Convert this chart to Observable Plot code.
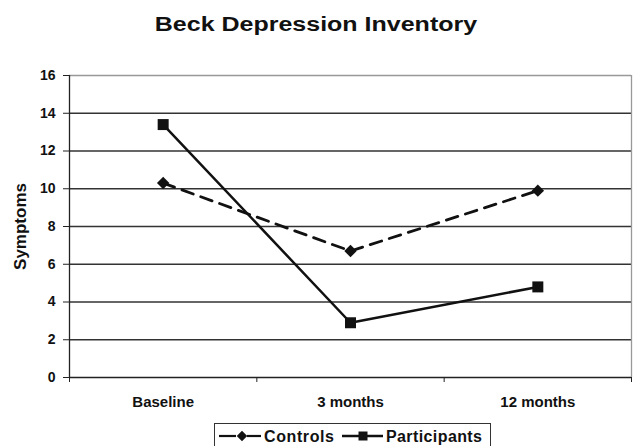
<!DOCTYPE html>
<html>
<head>
<meta charset="utf-8">
<script src="https://cdn.jsdelivr.net/npm/d3@7"></script>
<script src="https://cdn.jsdelivr.net/npm/@observablehq/plot@0.6"></script>
<style>
  html, body { margin: 0; padding: 0; background: #fff; }
  body { width: 634px; height: 446px; overflow: hidden; position: relative; font-family: "Liberation Sans", Arial, sans-serif; }
  #title { height: 60px; box-sizing: border-box; padding-top: 14px; text-align: center; }
  #title span { display: inline-block; font-size: 20px; line-height: 20px; font-weight: bold; color: #111; transform: scaleX(1.25); transform-origin: center; margin-left: -2px; }
  #chart svg { display: block; }
  #legend { position: absolute; left: 214px; top: 423px; width: 277px; height: 26px; border: 1px solid #333; box-sizing: border-box; background: #fff; }
</style>
</head>
<body>
<div id="title"><span>Beck Depression Inventory</span></div>
<div id="chart"></div>
<div id="legend"></div>
<script>
const categories = ["Baseline", "3 months", "12 months"];
const controls = [10.3, 6.7, 9.9];
const participants = [13.4, 2.9, 4.8];
const yTicks = [0, 2, 4, 6, 8, 10, 12, 14, 16];
const seriesNames = ["Controls", "Participants"];
const yLabel = "Symptoms";

const rowsC = categories.map((c, i) => ({pos: i + 0.5, value: controls[i]}));
const rowsP = categories.map((c, i) => ({pos: i + 0.5, value: participants[i]}));
const bounds = d3.range(categories.length + 1);
const centers = categories.map((c, i) => i + 0.5);

const chart = Plot.plot({
  width: 634,
  height: 362,
  marginTop: 15,
  marginBottom: 45,
  marginLeft: 69,
  marginRight: 3,
  style: {fontFamily: "'Liberation Sans', Arial, sans-serif", fontWeight: "bold", fontSize: "14px", color: "#111", background: "#fff"},
  x: {domain: [0, categories.length], axis: null},
  y: {domain: [0, 16], axis: null},
  marks: [
    Plot.gridY(yTicks.filter(d => d > 0 && d < 16), {stroke: "#333", strokeOpacity: 1, strokeWidth: 1.3}),
    Plot.ruleY([16], {stroke: "#999", strokeWidth: 1.3}),
    Plot.ruleX([categories.length], {stroke: "#999", strokeWidth: 1.3}),
    Plot.ruleY([0], {stroke: "#222", strokeWidth: 1.3}),
    Plot.ruleX([0], {stroke: "#222", strokeWidth: 1.3}),
    Plot.axisY({ticks: yTicks, label: null, tickSize: 6, tickPadding: 8, tickFormat: d => String(d), stroke: "#222", fontSize: 14, fontWeight: "bold"}),
    Plot.axisX({ticks: bounds, label: null, tickSize: 5, tickFormat: () => "", stroke: "#222"}),
    Plot.axisX({ticks: centers, label: null, tickSize: 0, tickPadding: 19, tickFormat: d => categories[Math.floor(d)], fontSize: 15, fontWeight: "bold"}),
    Plot.text([yLabel], {frameAnchor: "left", textAnchor: "middle", dx: -49, rotate: -90, fontSize: 17, fontWeight: "bold", fill: "#111"}),
    Plot.line(rowsC, {x: "pos", y: "value", stroke: "#111", strokeWidth: 2.8, strokeDasharray: "12,8"}),
    Plot.line(rowsP, {x: "pos", y: "value", stroke: "#111", strokeWidth: 2.5}),
    Plot.dot(rowsC, {x: "pos", y: "value", symbol: "diamond2", r: 5.6, fill: "#111", stroke: "none"}),
    Plot.dot(rowsP, {x: "pos", y: "value", symbol: "square", r: 6.2, fill: "#111", stroke: "none"})
  ]
});
document.getElementById("chart").appendChild(chart);

// Legend
const leg = d3.select("#legend").append("svg").attr("width", 275).attr("height", 24)
  .style("display", "block").style("font-family", "'Liberation Sans', Arial, sans-serif");
const items = [
  {name: seriesNames[0], x0: 4, x1: 46, mx: 27, sym: "diamond"},
  {name: seriesNames[1], x0: 127, x1: 168, mx: 148, sym: "square"}
];
items.forEach(it => {
  const g = leg.append("g");
  if (it.sym === "diamond") {
    g.append("line").attr("x1", it.x0).attr("x2", it.mx - 6).attr("y1", 12).attr("y2", 12).attr("stroke", "#111").attr("stroke-width", 2.2);
    g.append("line").attr("x1", it.mx + 5).attr("x2", it.x1).attr("y1", 12).attr("y2", 12).attr("stroke", "#111").attr("stroke-width", 2.2);
    g.append("path").attr("d", d3.symbol(d3.symbolDiamond2, 70)()).attr("transform", `translate(${it.mx},12)`).attr("fill", "#111");
  } else {
    g.append("line").attr("x1", it.x0).attr("x2", it.x1).attr("y1", 12).attr("y2", 12).attr("stroke", "#111").attr("stroke-width", 2.6);
    g.append("rect").attr("x", it.mx - 4.5).attr("y", 7.5).attr("width", 9).attr("height", 9).attr("fill", "#111");
  }
  g.append("text").attr("x", it.x1 + 3).attr("y", 17.5).attr("font-size", 16).attr("font-weight", "bold")
    .attr("fill", "#111").attr("textLength", it.sym === "diamond" ? 70 : 96).text(it.name);
});
</script>
</body>
</html>
